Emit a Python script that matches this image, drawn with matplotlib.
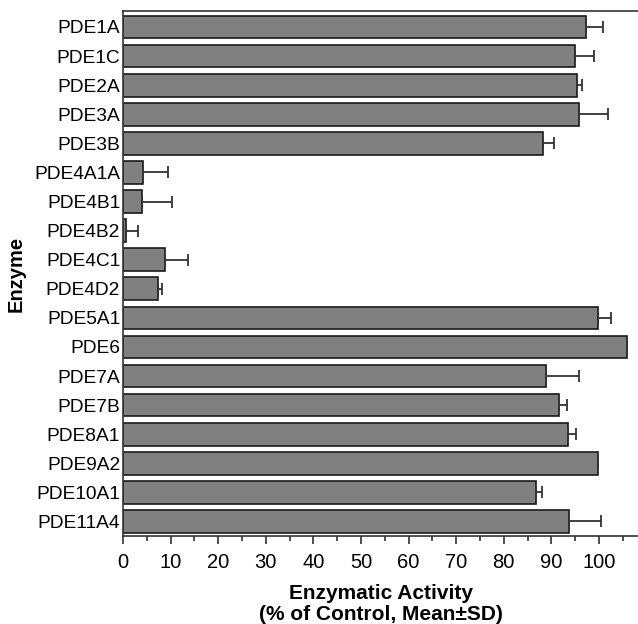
import matplotlib
matplotlib.use("Agg")
import matplotlib.pyplot as plt
import numpy as np

enzymes = ["PDE1A", "PDE1C", "PDE2A", "PDE3A", "PDE3B", "PDE4A1A", "PDE4B1", "PDE4B2",
           "PDE4C1", "PDE4D2", "PDE5A1", "PDE6", "PDE7A", "PDE7B", "PDE8A1", "PDE9A2",
           "PDE10A1", "PDE11A4"]
activity = [97.3, 95.0, 95.3, 95.9, 88.3, 4.3, 3.9, 0.6, 8.8, 7.4, 99.7, 105.9, 88.8,
            91.7, 93.4, 99.9, 86.8, 93.7]
sd = [3.6, 4.0, 1.2, 5.9, 2.2, 5.2, 6.3, 2.5, 4.9, 0.8, 2.8, 0.0, 7.0, 1.6, 1.8, 0.0, 1.3, 6.7]
xticks = [0, 10, 20, 30, 40, 50, 60, 70, 80, 90, 100]

plt.rcParams['font.family'] = ['Liberation Sans', 'DejaVu Sans']

fig = plt.figure(figsize=(6.38, 6.24), dpi=100)
ax = fig.add_axes([0.1928, 0.141, 0.8072, 0.8414])

y = np.arange(len(enzymes))
xerr = np.vstack([np.zeros(len(sd)), sd])
ax.barh(y, activity, height=0.78, color="#808080", edgecolor="#1a1a1a", linewidth=1.2,
        xerr=xerr, error_kw=dict(ecolor="#333333", elinewidth=1.3, capsize=4, capthick=1.3),
        zorder=2)

ax.set_ylim(len(enzymes) - 0.5, -0.55)
ax.set_xlim(0, 108.2)
ax.set_yticks(y)
ax.set_yticklabels(enzymes, fontsize=13.8)
ax.set_xticks(xticks)
ax.set_xticklabels([str(t) for t in xticks], fontsize=14.5)
ax.set_xticks(np.arange(5, 108, 10), minor=True)
ax.tick_params(axis='y', length=0, pad=2)
ax.tick_params(axis='x', which='major', length=6, width=1.2, direction='out', color="#333333", pad=6)
ax.tick_params(axis='x', which='minor', length=3.5, width=1.2, direction='out', color="#333333")

for s in ['left', 'bottom', 'top']:
    ax.spines[s].set_linewidth(1.2)
    ax.spines[s].set_color("#333333")
ax.spines['right'].set_visible(False)

ax.set_xlabel("Enzymatic Activity\n(% of Control, Mean\u00b1SD)", fontsize=15,
              fontweight='bold', linespacing=1.1, labelpad=9)
ax.set_ylabel("Enzyme", fontsize=14.5, fontweight='bold', labelpad=6)

fig.savefig("out.png", dpi=100)
